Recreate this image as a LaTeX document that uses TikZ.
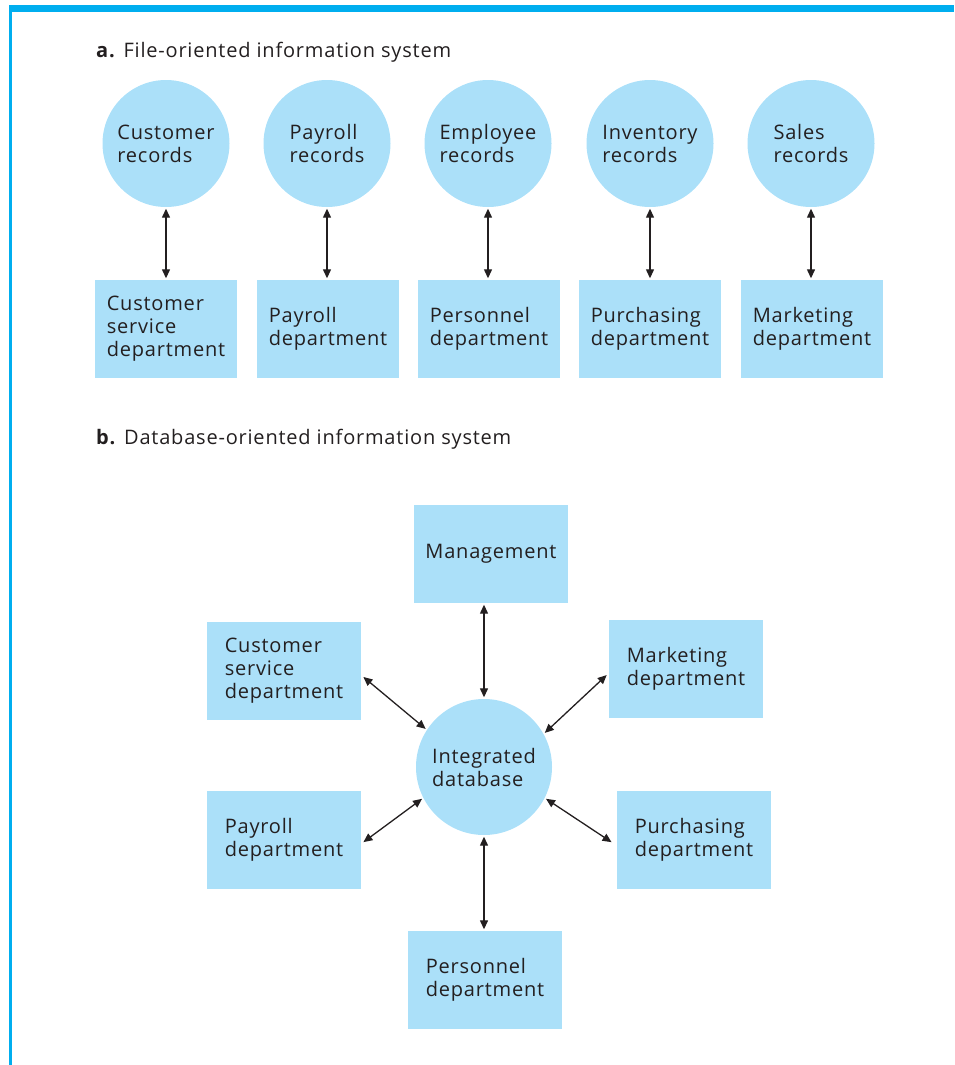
\documentclass[tikz,border=0pt]{standalone}
\usepackage{fontspec}
\setmainfont[LetterSpace=4]{Open Sans}
\usetikzlibrary{arrows.meta,positioning}
\definecolor{rule}{HTML}{00AEEF}
\definecolor{softblue}{HTML}{ABE0F9}
\definecolor{ink}{HTML}{231F20}

\begin{document}
\begin{tikzpicture}[
  x=1pt, y=-1pt,
  every node/.style={font=\fontsize{20}{23}\selectfont, text=ink},
  record/.style={circle, fill=softblue, minimum size=127pt, inner sep=0pt, align=left},
  dept/.style={rectangle, fill=softblue, minimum width=142pt, minimum height=98pt, inner sep=0pt, align=left},
  wide/.style={dept, minimum width=154pt},
  arr/.style={{Triangle[length=9pt,width=8pt]}-{Triangle[length=9pt,width=8pt]}, line width=1.3pt, ink, shorten <=1.5pt, shorten >=1.5pt}
]
  \useasboundingbox (0,0) rectangle (954,1065);
  % frame
  \fill[rule] (9,5) rectangle (954,12);
  \fill[rule] (9,5) rectangle (11.5,1065);

  % a. file-oriented
  \node[anchor=base west, inner sep=0pt] (titleA) at (96,57) {\textbf{a.} File-oriented information system};
  \node[record] (rcust) at (166,143.5) {Customer\\records};
  \node[record] (rpay)  at (327,143.5) {Payroll\\records};
  \node[record] (remp)  at (488,143.5) {Employee\\records};
  \node[record] (rinv)  at (650,143.5) {Inventory\\records};
  \node[record] (rsal)  at (811,143.5) {Sales\\records};
  \node[dept] (dcust) at (166,329) {Customer\\service\\department};
  \node[dept] (dpay)  at (328,329) {Payroll\\department};
  \node[dept] (dper)  at (489,329) {Personnel\\department};
  \node[dept] (dpur)  at (650,329) {Purchasing\\department};
  \node[dept] (dmkt)  at (812,329) {Marketing\\department};
  \draw[arr] (rcust) -- (dcust);
  \draw[arr] (rpay) -- (rpay |- dpay.north);
  \draw[arr] (remp) -- (remp |- dper.north);
  \draw[arr] (rinv) -- (dpur);
  \draw[arr] (rsal) -- (rsal |- dmkt.north);

  % b. database-oriented
  \node[anchor=base west, inner sep=0pt] (titleB) at (96,444) {\textbf{b.} Database-oriented information system};
  \node[record, minimum size=136pt] (db) at (484,767) {Integrated\\database};
  \node[wide] (mgmt) at (491,554) {Management};
  \node[wide] (cust) at (284,671) {Customer\\service\\department};
  \node[wide] (mkt)  at (686,669) {Marketing\\department};
  \node[wide] (pay)  at (284,840) {Payroll\\department};
  \node[wide] (pur)  at (694,840) {Purchasing\\department};
  \node[wide] (per)  at (485,980) {Personnel\\department};
  \draw[arr] (db) -- (db |- mgmt.south);
  \draw[arr] (db.147) -- ([shift={(1,5)}]cust.east);
  \draw[arr] (db.29) -- ([shift={(-1,5)}]mkt.west);
  \draw[arr] (db.207) -- ([shift={(1,3)}]pay.east);
  \draw[arr] (db.333) -- ([shift={(-4,3)}]pur.west);
  \draw[arr] (db) -- (db |- per.north);
\end{tikzpicture}
\end{document}
